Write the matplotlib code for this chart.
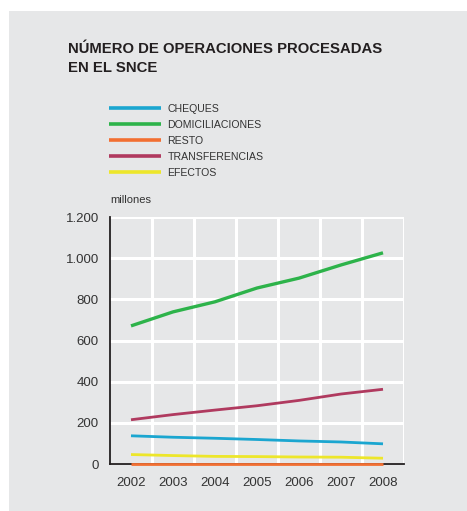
import matplotlib
matplotlib.use("Agg")
import matplotlib.pyplot as plt
from matplotlib.patches import Rectangle

plt.rcParams['font.family'] = ['Liberation Sans', 'DejaVu Sans']

years = [2002, 2003, 2004, 2005, 2006, 2007, 2008]
series_names = ["CHEQUES", "DOMICILIACIONES", "RESTO", "TRANSFERENCIAS", "EFECTOS"]
cheques = [137, 130, 125, 119, 112, 107, 98]
domiciliaciones = [671, 739, 788, 855, 903, 967, 1026]
resto = [2, 2, 2, 2, 2, 2, 2]
transferencias = [215, 240, 262, 283, 309, 340, 363]
efectos = [46, 41, 37, 36, 34, 33, 28]
yticks = [0, 200, 400, 600, 800, 1000, 1200]
ytick_labels = ["0", "200", "400", "600", "800", "1.000", "1.200"]
colors = ["#1ba6d0", "#2db34a", "#f26f32", "#b03a5f", "#ede62a"]

W, H = 467, 511
fig = plt.figure(figsize=(W / 100, H / 100), dpi=100)
fig.patch.set_facecolor("white")
bg = "#e6e7e8"
fig.patches.append(Rectangle((9 / W, 0), 1 - 9 / W, 1 - 11 / H, transform=fig.transFigure,
                             facecolor=bg, edgecolor="none", zorder=-10))

ax = fig.add_axes([110 / W, (H - 464) / H, (404 - 110) / W, (464 - 217) / H])
ax.set_facecolor(bg)

data = [cheques, domiciliaciones, resto, transferencias, efectos]
handles = []
for name, vals, c in zip(series_names, data, colors):
    lw = 2.4 if name == "DOMICILIACIONES" else 2.0
    z = 5 if name == "RESTO" else 3
    h, = ax.plot(years, vals, color=c, lw=lw, label=name, solid_capstyle="butt",
                 zorder=z, clip_on=False)
    handles.append(h)

ax.set_xlim(2001.5, 2008.5)
ax.set_ylim(0, 1200)
ax.set_yticks(yticks)
ax.set_yticklabels(ytick_labels)
ax.set_xticks(years)
ax.set_xticks([y + 0.5 for y in years], minor=True)
ax.grid(True, which="minor", axis="x", color="white", lw=2.2)
ax.grid(True, which="major", axis="y", color="white", lw=2.2)
ax.tick_params(which="both", length=0)
ax.tick_params(axis="y", pad=8, labelsize=9.5, colors="#333333")
ax.tick_params(axis="x", pad=9, labelsize=9.5, colors="#333333")
for s in ["top", "right"]:
    ax.spines[s].set_visible(False)
for s in ["left", "bottom"]:
    ax.spines[s].set_color("#231f20")
    ax.spines[s].set_linewidth(1.3)
    ax.spines[s].set_zorder(4)
ax.set_axisbelow(True)

fig.text(110 / W, 1 - 200 / H, "millones", fontsize=8, color="#333333", va="center", ha="left")

fig.text(68 / W, 1 - 58.5 / H, "NÚMERO DE OPERACIONES PROCESADAS\nEN EL SNCE", fontsize=10.7,
         fontweight="bold", color="#231f20", va="center", ha="left", linespacing=1.45)

leg = fig.legend(handles=handles, loc="upper left", bbox_to_anchor=(109 / W, 1 - 104 / H),
                 frameon=False, fontsize=7.6, handlelength=4.9, handletextpad=0.65,
                 labelspacing=0.56, borderaxespad=0, borderpad=0)
for t in leg.get_texts():
    t.set_color("#333333")
for l in leg.get_lines():
    l.set_linewidth(2.6)

fig.savefig("out.png", dpi=100, facecolor="white")
